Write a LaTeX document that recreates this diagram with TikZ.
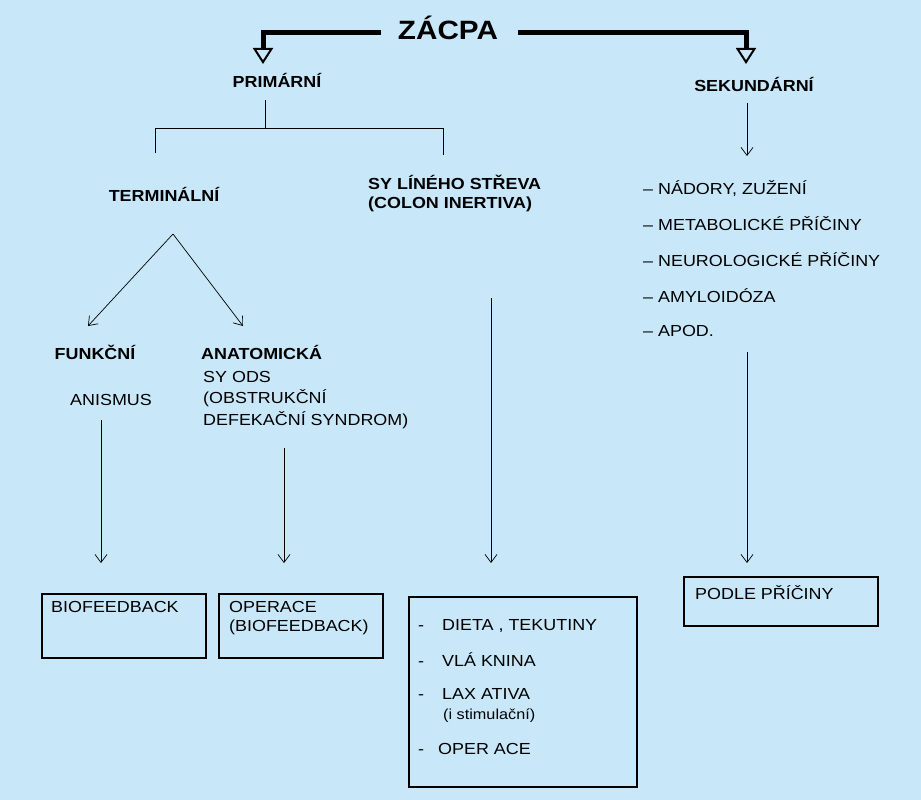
\documentclass[tikz,border=0pt]{standalone}
\usepackage{fontspec}
\setmainfont[FakeStretch=1.12]{Liberation Sans}
\usetikzlibrary{arrows.meta}
\definecolor{bg}{HTML}{C8E8FA}
\begin{document}
\begin{tikzpicture}[x=1pt,y=-1pt,
  txt/.style={font=\fontsize{16}{19}\selectfont,inner sep=0pt},
  btxt/.style={txt,font=\fontsize{16}{19}\selectfont\bfseries},
  arr/.style={-{Straight Barb[length=8pt,width=12pt]},line width=0.7pt},
  ln/.style={line width=0.9pt},
  box/.style={draw,line width=1.5pt},
  big/.style={line width=5pt,-{Triangle[open,length=16pt,width=20pt,line width=2pt]}}]
\useasboundingbox[fill=bg] (0,0) rectangle (921,800);
\node[font=\fontsize{26.5}{32}\selectfont\bfseries,inner sep=0pt] (z) at (448,28) {ZÁCPA};
\node[btxt] (prim) at (277,80) {PRIMÁRNÍ};
\node[btxt] (sek) at (754,84) {SEKUNDÁRNÍ};
\coordinate (zl) at (381,33); \coordinate (zr) at (518,33);
\coordinate (pl) at (263,33); \coordinate (pr) at (746,33);
\coordinate (pt) at (263,64); \coordinate (st) at (746,64);
\draw[big] (zl) -- (pl) -- (pt);
\draw[big] (zr) -- (pr) -- (st);
\coordinate (b0) at (265,100); \coordinate (b1) at (265,128);
\coordinate (bl) at (155,128); \coordinate (br) at (443,128);
\coordinate (bl2) at (155,153); \coordinate (br2) at (443,155);
\draw[ln] (b0) -- (b1);
\draw[ln] (bl2) -- (bl) -- (br) -- (br2);
\node[btxt] (term) at (164,194) {TERMINÁLNÍ};
\node[btxt,anchor=west,align=left] (sy) at (368,193) {SY LÍNÉHO STŘEVA\\(COLON INERTIVA)};
\coordinate (t0) at (173,234);
\coordinate (tf) at (88,326); \coordinate (ta) at (243,326);
\draw[arr] (t0) -- (tf);
\draw[arr] (t0) -- (ta);
\node[btxt] (funk) at (95,352) {FUNKČNÍ};
\node[btxt,anchor=west] (anat) at (201,352) {ANATOMICKÁ};
\node[txt] (anis) at (111,400) {ANISMUS};
\node[txt,anchor=north west,align=left,font=\fontsize{16}{21.5}\selectfont] (ods) at (203,371) {SY ODS\\(OBSTRUKČNÍ\\DEFEKAČNÍ SYNDROM)};
\node[txt,anchor=west] (l1) at (643,189) {– NÁDORY, ZUŽENÍ};
\node[txt,anchor=west] (l2) at (643,224) {– METABOLICKÉ PŘÍČINY};
\node[txt,anchor=west] (l3) at (643,260) {– NEUROLOGICKÉ PŘÍČINY};
\node[txt,anchor=west] (l4) at (643,296) {– AMYLOIDÓZA};
\node[txt,anchor=west] (l5) at (643,331) {– APOD.};
\coordinate (a1s) at (101,420); \coordinate (a1e) at (101,563);
\coordinate (a2s) at (284,448); \coordinate (a2e) at (284,563);
\coordinate (a3s) at (491,298); \coordinate (a3e) at (491,563);
\coordinate (a4s) at (747,103); \coordinate (a4e) at (747,156);
\coordinate (a5s) at (747,352); \coordinate (a5e) at (747,563);
\draw[arr] (a1s) -- (a1e);
\draw[arr] (a2s) -- (a2e);
\draw[arr] (a3s) -- (a3e);
\draw[arr] (a4s) -- (a4e);
\draw[arr] (a5s) -- (a5e);
\draw[box] (42,594) rectangle (206,658);
\node[txt,anchor=north west] (bio) at (51,601) {BIOFEEDBACK};
\draw[box] (219,594) rectangle (383,658);
\node[txt,anchor=north west,align=left] (oper) at (229,601) {OPERACE\\(BIOFEEDBACK)};
\draw[box] (409,597) rectangle (637,787);
\node[txt,anchor=west] (m1) at (418,626) {-\hspace{18pt}DIETA , TEKUTINY};
\node[txt,anchor=west] (m2) at (418,660) {-\hspace{18pt}VLÁ KNINA};
\node[txt,anchor=west] (m3) at (418,694) {-\hspace{18pt}LAX ATIVA};
\node[txt,anchor=west,font=\fontsize{14.5}{17}\selectfont] (m3b) at (443,716) {(i stimulační)};
\node[txt,anchor=west] (m4) at (418,749) {-\hspace{14pt}OPER ACE};
\draw[box] (684,577) rectangle (878,626);
\node[txt,anchor=north west] (podle) at (695,585) {PODLE PŘÍČINY};
\end{tikzpicture}
\end{document}
